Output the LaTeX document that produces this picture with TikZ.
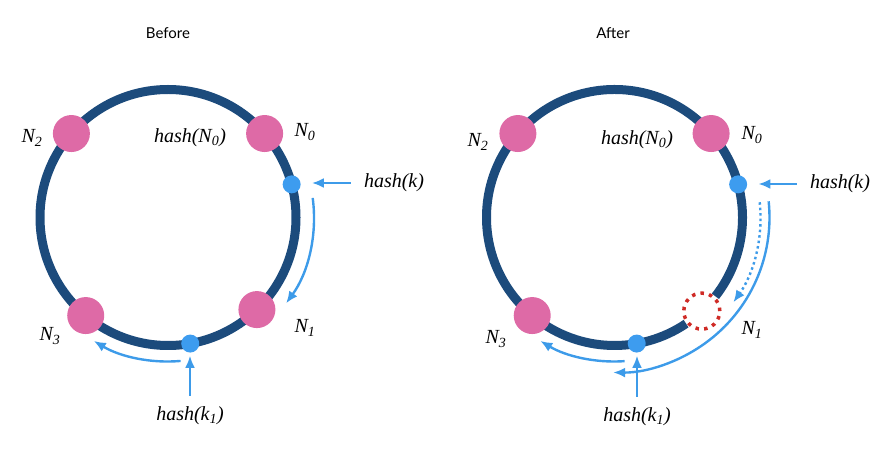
\documentclass[tikz,border=0pt]{standalone}
\usepackage{fontspec}
\setmainfont{Liberation Serif}
\newfontfamily\titlefont{Lato}
\usepackage{xcolor}
\usetikzlibrary{arrows.meta,calc,positioning}
\definecolor{ringblue}{HTML}{1C4B7C}
\definecolor{nodepink}{HTML}{DE6AA6}
\definecolor{keyblue}{HTML}{3D9CEF}
\definecolor{arrowblue}{HTML}{3D9BE9}
\definecolor{lostred}{HTML}{CF2B26}
\tikzset{%
	ring/.style    = {draw=ringblue, line width=9pt}, % hash ring
	server/.style  = {circle, fill=nodepink, minimum size=37pt, inner sep=0pt}, % Node
	key/.style     = {circle, fill=keyblue, minimum size=18pt, inner sep=0pt}, % Key
	lbl/.style     = {font=\fontsize{20}{24}\selectfont\itshape, inner sep=0pt},
	heading/.style = {font=\titlefont\fontsize{15}{18}\selectfont, inner sep=0pt},
	flow/.style    = {draw=arrowblue, line width=2.4pt, -{Latex[length=12pt,width=10pt]}},
	removed/.style = {circle, draw=lostred, line width=3.5pt, dash pattern=on 3.5pt off 5.2pt, minimum size=36pt, inner sep=0pt},
}

\begin{document}
\begin{tikzpicture}[x=1pt,y=1pt]
	\useasboundingbox (0,0) rectangle (881,450);

	% Before
	\coordinate (L) at (168,232.5);
	\node [heading] (lt) at (168,417) {Before};
	\draw [ring] (L) circle [radius=128];
	\node [server] (ln0) at ($(L)+(41:128)$) {};
	\node [server] (ln1) at ($(L)+(-46:128)$) {};
	\node [server] (ln2) at ($(L)+(139:128)$) {};
	\node [server] (ln3) at ($(L)+(-130:128)$) {};
	\node [key] (lk) at ($(L)+(15:128)$) {};
	\node [key] (lk1) at ($(L)+(-80:128)$) {};
	\node [lbl] (lN0) at (305,318) {N\textsubscript{0}};
	\node [lbl] (lN1) at (305,122) {N\textsubscript{1}};
	\node [lbl] (lN2) at (32,312) {N\textsubscript{2}};
	\node [lbl] (lN3) at (50,114) {N\textsubscript{3}};
	\node [lbl] (lhN0) at (190,312) {hash(N\textsubscript{0})};
	\node [lbl] (lhk) at (394,267) {hash(k)};
	\node [lbl] (lhk1) at (190,34) {hash(k\textsubscript{1})};
	\coordinate (la) at ($(L)+(7.7:146)$);
	\coordinate (lb) at ($(L)+(-85:144)$);

	\draw [flow, shorten <=13pt, shorten >=11pt] (lhk.west) -- (lhk.west -| lk.east);
	\draw [flow, shorten <=11pt, shorten >=3pt] (lhk1.north) -- (lhk1.north |- lk1.south);
	\draw [flow] (la) arc [start angle=7.7, end angle=-36, radius=146];
	\draw [flow] (lb) arc [start angle=-85, end angle=-121, radius=144];

	% After
	\coordinate (R) at (614.5,232.5);
	\node [heading] (rt) at (613,417) {After};
	\draw [ring] ($(R)+(-38:128)$) arc [start angle=-38, end angle=304, radius=128];
	\node [server] (rn0) at ($(R)+(41:128)$) {};
	\node [removed] (rn1) at ($(R)+(-47:128)$) {};
	\node [server] (rn2) at ($(R)+(139:128)$) {};
	\node [server] (rn3) at ($(R)+(-130:128)$) {};
	\node [key] (rk) at ($(R)+(15:128)$) {};
	\node [key] (rk1) at ($(R)+(-80:128)$) {};
	\node [lbl] (rN0) at (752,315) {N\textsubscript{0}};
	\node [lbl] (rN1) at (752,120) {N\textsubscript{1}};
	\node [lbl] (rN2) at (478,308) {N\textsubscript{2}};
	\node [lbl] (rN3) at (496,111) {N\textsubscript{3}};
	\node [lbl] (rhN0) at (637,310) {hash(N\textsubscript{0})};
	\node [lbl] (rhk) at (840,266) {hash(k)};
	\node [lbl] (rhk1) at (637,33) {hash(k\textsubscript{1})};
	\coordinate (ra) at ($(R)+(6:146)$);
	\coordinate (rb) at ($(R)+(6:155)$);
	\coordinate (rc) at ($(R)+(-86:144)$);

	\draw [flow, shorten <=13pt, shorten >=11pt] (rhk.west) -- (rhk.west -| rk.east);
	\draw [flow, shorten <=11pt, shorten >=3pt] (rhk1.north) -- (rhk1.north |- rk1.south);
	\draw [flow, dash pattern=on 2.5pt off 3pt] (ra) arc [start angle=6, end angle=-35.5, radius=146];
	\draw [flow] (rb) arc [start angle=6, end angle=-90.5, radius=155];
	\draw [flow] (rc) arc [start angle=-86, end angle=-121, radius=144];
\end{tikzpicture}
\end{document}
